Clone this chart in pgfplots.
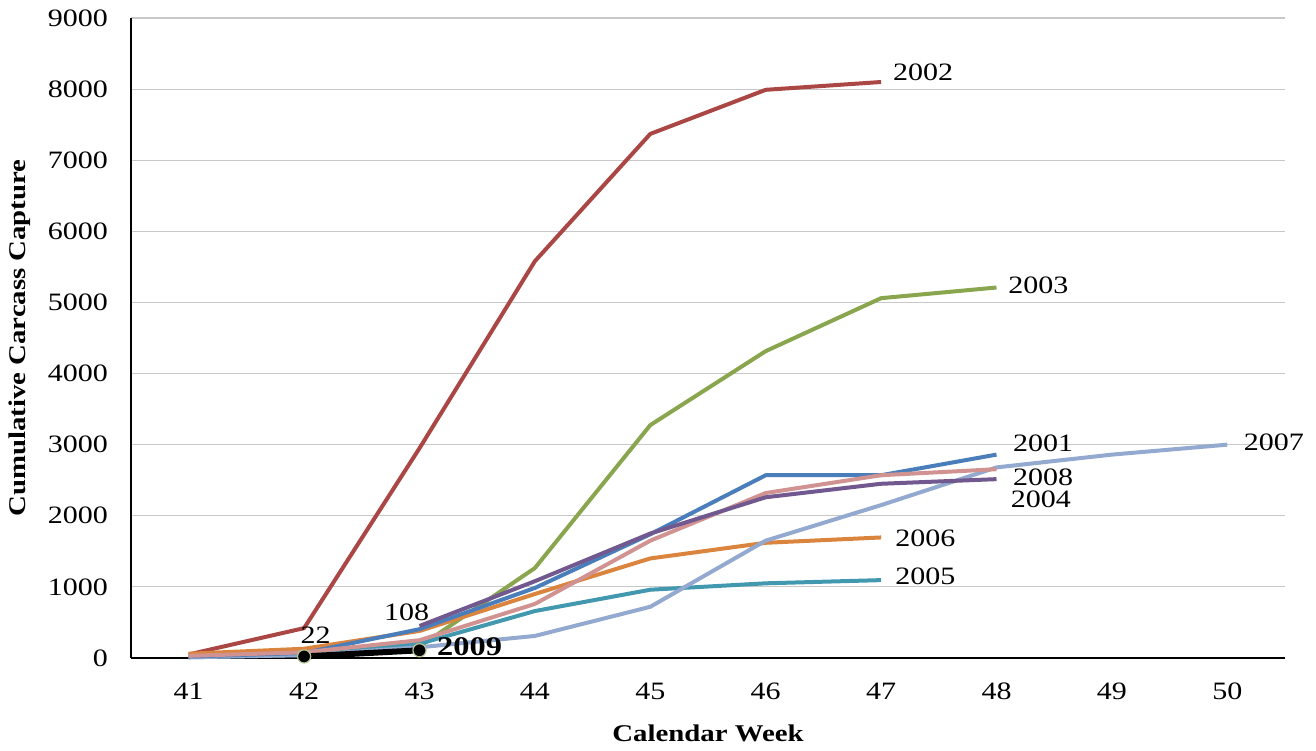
\documentclass[border=0pt]{standalone}
\usepackage{pgfplots}
\pgfplotsset{compat=1.18}
\usepackage{fontspec}
\setmainfont{Liberation Serif}[FakeStretch=1.2]

\definecolor{c2001}{HTML}{4A7EBB}
\definecolor{c2002}{HTML}{AA4643}
\definecolor{c2003}{HTML}{89A54E}
\definecolor{c2004}{HTML}{71588F}
\definecolor{c2005}{HTML}{4198AF}
\definecolor{c2006}{HTML}{DB843D}
\definecolor{c2007}{HTML}{93A9CF}
\definecolor{c2008}{HTML}{D19392}
\definecolor{gridgray}{HTML}{C8C8C8}

\begin{document}
\begin{tikzpicture}
\begin{axis}[
    name=ax,
    scale only axis,
    width=577pt, height=320pt,
    xmin=40.5, xmax=50.5,
    ymin=0, ymax=9000,
    xtick={41,...,50},
    ytick={0,1000,...,9000},
    axis x line*=bottom,
    axis y line*=left,
    axis line style={black, line width=1pt},
    ymajorgrids,
    grid style={gridgray, line width=0.6pt},
    major tick length=0pt,
    tick style={draw=none},
    /pgf/number format/assume math mode=true,
    /pgf/number format/1000 sep={},
    ticklabel style={font=\fontsize{12.5}{14}\selectfont},
    xticklabel style={yshift=-9pt},
    yticklabel style={xshift=-8pt},
    xlabel={\textbf{Calendar Week}},
    ylabel={\textbf{Cumulative Carcass Capture}},
    label style={font=\fontsize{12}{14}\selectfont},
    xlabel style={at={(axis description cs:0.5,-0.1172)}, anchor=center},
    ylabel style={at={(axis description cs:-0.0962,0.5)}, anchor=center},
    every axis plot/.append style={line width=2pt, line join=round},
    clip=false,
]
% 2002
\addplot[c2002] coordinates {(41,50) (42,420) (43,2950) (44,5580) (45,7370) (46,7990) (47,8100)};
% 2003
\addplot[c2003] coordinates {(41,20) (42,60) (43,160) (44,1265) (45,3275) (46,4315) (47,5060) (48,5210)};
% 2006
\addplot[c2006] coordinates {(41,60) (42,130) (43,380) (44,900) (45,1400) (46,1620) (47,1695)};
% 2005
\addplot[c2005] coordinates {(41,10) (42,40) (43,200) (44,660) (45,960) (46,1050) (47,1095)};
% 2007
\addplot[c2007] coordinates {(41,10) (42,40) (43,150) (44,310) (45,720) (46,1650) (47,2150) (48,2680) (49,2860) (50,3000)};
% 2001
\addplot[c2001] coordinates {(41,20) (42,70) (43,405) (44,985) (45,1740) (46,2570) (47,2570) (48,2860)};
% 2008
\addplot[c2008] coordinates {(41,30) (42,80) (43,250) (44,760) (45,1650) (46,2320) (47,2570) (48,2655)};
% 2004
\addplot[c2004] coordinates {(43,450) (44,1080) (45,1750) (46,2260) (47,2450) (48,2515)};
% 2009
\addplot[black, line width=3pt, mark=*, mark size=3.3pt,
    mark options={fill=black, draw=c2003!60, line width=0.6pt}]
    coordinates {(42,22) (43,108)};

\begin{scope}[every node/.style={font=\fontsize{12.5}{14}\selectfont, inner sep=0pt}]
\node[anchor=west] at (axis cs:47.10,8230) {2002};
\node[anchor=west] at (axis cs:48.10,5245) {2003};
\node[anchor=west] at (axis cs:48.14,3020) {2001};
\node[anchor=west] at (axis cs:48.14,2545) {2008};
\node[anchor=west] at (axis cs:48.12,2235) {2004};
\node[anchor=west] at (axis cs:47.12,1690) {2006};
\node[anchor=west] at (axis cs:47.12,1150) {2005};
\node[anchor=west] at (axis cs:50.14,3040) {2007};
\node[anchor=west] at (axis cs:42.69,645) {108};
\node at (axis cs:42.10,320) {22};
\node[anchor=west, font=\fontsize{13.5}{15}\selectfont\bfseries] at (axis cs:43.15,160) {2009};
\end{scope}
\end{axis}
\pgfresetboundingbox
\path[use as bounding box] ([shift={(-65.5pt,-46.5pt)}]ax.south west) rectangle ([shift={(15.5pt,9pt)}]ax.north east);
\end{tikzpicture}
\end{document}
